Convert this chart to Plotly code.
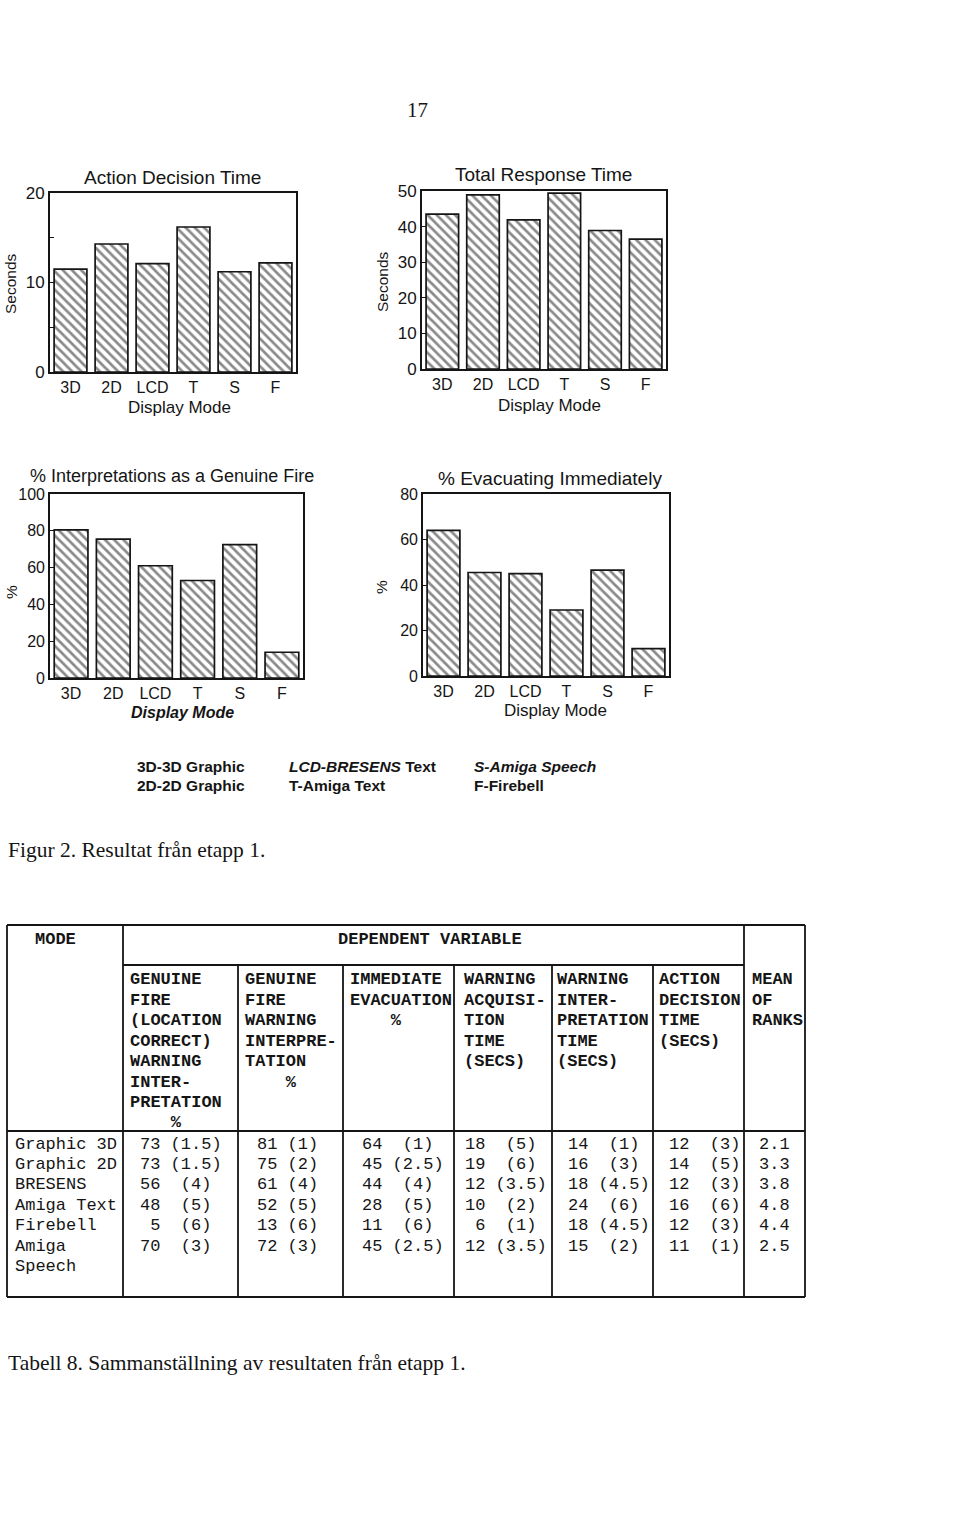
import plotly.graph_objects as go

# ---------------- data ----------------
modes = ["3D", "2D", "LCD", "T", "S", "F"]
action_decision_time = [11.5, 14.3, 12.1, 16.2, 11.2, 12.2]
total_response_time = [43.5, 48.9, 41.9, 49.4, 38.9, 36.5]
genuine_fire_pct = [80.5, 75.5, 61, 53, 72.5, 14]
evacuating_pct = [64, 45.5, 45, 29, 46.5, 12]

chart_titles = ["Action Decision Time", "Total Response Time",
                "% Interpretations as a Genuine Fire", "% Evacuating Immediately"]
y_titles = ["Seconds", "Seconds", "%", "%"]
x_title = "Display Mode"

adt_ticks = [0, 5, 10, 15, 20]
adt_ticktext = ["0", "", "10", "", "20"]
trt_ticks = [0, 10, 20, 30, 40, 50]
gf_ticks = [0, 20, 40, 60, 80, 100]
ev_ticks = [0, 20, 40, 60, 80]

legend_left = ["3D-3D Graphic", "2D-2D Graphic"]
legend_mid = ["<i>LCD-BRESENS</i> Text", "T-Amiga Text"]
legend_right = ["<i>S-Amiga Speech</i>", "F-Firebell"]

page_number = "17"
figure_caption = "Figur 2. Resultat från etapp 1."
table_caption = "Tabell 8. Sammanställning av resultaten från etapp 1."

table_mode_header = "MODE"
table_group_header = "DEPENDENT VARIABLE"
col_headers = [
    ["GENUINE", "FIRE", "(LOCATION", "CORRECT)", "WARNING", "INTER-", "PRETATION", "    %"],
    ["GENUINE", "FIRE", "WARNING", "INTERPRE-", "TATION", "    %"],
    ["IMMEDIATE", "EVACUATION", "    %"],
    ["WARNING", "ACQUISI-", "TION", "TIME", "(SECS)"],
    ["WARNING", "INTER-", "PRETATION", "TIME", "(SECS)"],
    ["ACTION", "DECISION", "TIME", "(SECS)"],
    ["MEAN", "OF", "RANKS"],
]
row_modes = ["Graphic 3D", "Graphic 2D", "BRESENS", "Amiga Text", "Firebell", "Amiga", "Speech"]
gf_loc_val = [73, 73, 56, 48, 5, 70]
gf_loc_rank = [1.5, 1.5, 4, 5, 6, 3]
gf_int_val = [81, 75, 61, 52, 13, 72]
gf_int_rank = [1, 2, 4, 5, 6, 3]
evac_val = [64, 45, 44, 28, 11, 45]
evac_rank = [1, 2.5, 4, 5, 6, 2.5]
acq_val = [18, 19, 12, 10, 6, 12]
acq_rank = [5, 6, 3.5, 2, 1, 3.5]
interp_val = [14, 16, 18, 24, 18, 15]
interp_rank = [1, 3, 4.5, 6, 4.5, 2]
dec_val = [12, 14, 12, 16, 12, 11]
dec_rank = [3, 5, 3, 6, 3, 1]
mean_ranks = [2.1, 3.3, 3.8, 4.8, 4.4, 2.5]

# ---------------- helpers ----------------
W, H = 960, 1534
def px(x):
    return x / W
def py(y):
    return 1 - y / H

INK = "#151515"
SANS = "Liberation Sans, Arial, sans-serif"
SERIF = "Liberation Serif, Times New Roman, serif"
MONO = "Liberation Mono, Courier New, monospace"

fig = go.Figure()

charts = [
    dict(vals=action_decision_time, dom_x=(50, 296), dom_y=(193, 372), rng=20,
         ticks=adt_ticks, ticktext=adt_ticktext, tfs=17,
         title_xy=(172, 177), tsize=19, ytitle_xy=(11, 284), xtitle_xy=(179, 407), italic=False),
    dict(vals=total_response_time, dom_x=(422, 666), dom_y=(191, 369), rng=50,
         ticks=trt_ticks, ticktext=[str(t) for t in trt_ticks], tfs=17,
         title_xy=(543, 175), tsize=19, ytitle_xy=(382, 282), xtitle_xy=(549, 405), italic=False),
    dict(vals=genuine_fire_pct, dom_x=(50, 303), dom_y=(494, 678), rng=100,
         ticks=gf_ticks, ticktext=[str(t) for t in gf_ticks], tfs=16,
         title_xy=(172, 476), tsize=18, ytitle_xy=(11, 592), xtitle_xy=(182, 712), italic=True),
    dict(vals=evacuating_pct, dom_x=(423, 669), dom_y=(494, 676), rng=80,
         ticks=ev_ticks, ticktext=[str(t) for t in ev_ticks], tfs=16,
         title_xy=(550, 479), tsize=19, ytitle_xy=(382, 587), xtitle_xy=(555, 710), italic=False),
]

annotations = []
shapes = []
layout_axes = {}

for i, c in enumerate(charts):
    n = "" if i == 0 else str(i + 1)
    fig.add_trace(go.Bar(
        x=modes, y=c["vals"], xaxis="x" + n, yaxis="y" + n, width=0.8,
        marker=dict(color="white", line=dict(color=INK, width=1.7),
                    pattern=dict(shape="\\", fgcolor=INK, bgcolor="white",
                                 size=6.5, solidity=0.42)),
        showlegend=False, hoverinfo="x+y"))
    layout_axes["xaxis" + n] = dict(
        domain=[px(c["dom_x"][0]), px(c["dom_x"][1])], anchor="y" + n,
        showline=True, mirror=True, linecolor=INK, linewidth=1.7,
        showgrid=False, zeroline=False, ticks="", automargin=False,
        tickfont=dict(family=SANS, size=16, color=INK),
        range=[-0.5, 5.5], fixedrange=True)
    layout_axes["yaxis" + n] = dict(
        domain=[py(c["dom_y"][1]), py(c["dom_y"][0])], anchor="x" + n,
        range=[0, c["rng"]], showline=True, mirror=True, linecolor=INK,
        linewidth=1.7, showgrid=False, zeroline=False, automargin=False,
        ticks="inside", ticklen=4, tickcolor=INK,
        tickvals=c["ticks"], ticktext=c["ticktext"],
        tickfont=dict(family=SANS, size=c["tfs"], color=INK), fixedrange=True)
    tx, ty = c["title_xy"]
    annotations.append(dict(x=px(tx), y=py(ty), xref="paper", yref="paper",
                            text=chart_titles[i], showarrow=False,
                            xanchor="center", yanchor="middle",
                            font=dict(family=SANS, size=c["tsize"], color=INK)))
    yx, yy = c["ytitle_xy"]
    annotations.append(dict(x=px(yx), y=py(yy), xref="paper", yref="paper",
                            text=y_titles[i], showarrow=False, textangle=-90,
                            xanchor="center", yanchor="middle",
                            font=dict(family=SANS, size=15.5, color=INK)))
    xx, xy = c["xtitle_xy"]
    xt = "<b><i>" + x_title + "</i></b>" if c["italic"] else x_title
    annotations.append(dict(x=px(xx), y=py(xy), xref="paper", yref="paper",
                            text=xt, showarrow=False,
                            xanchor="center", yanchor="middle",
                            font=dict(family=SANS, size=17 if not c["italic"] else 16, color=INK)))

# legend text block
for col_x, items in [(135, legend_left), (287, legend_mid), (472, legend_right)]:
    for j, t in enumerate(items):
        annotations.append(dict(x=px(col_x), y=py(766 + 19.5 * j), xref="paper", yref="paper",
                                text="<b>" + t + "</b>", showarrow=False,
                                xanchor="left", yanchor="middle",
                                font=dict(family=SANS, size=15.5, color=INK)))

# page number & captions
annotations.append(dict(x=px(417), y=py(110), xref="paper", yref="paper", text=page_number,
                        showarrow=False, xanchor="center", yanchor="middle",
                        font=dict(family=SERIF, size=21, color=INK)))
annotations.append(dict(x=px(6), y=py(850), xref="paper", yref="paper", text=figure_caption,
                        showarrow=False, xanchor="left", yanchor="middle",
                        font=dict(family=SERIF, size=21.5, color=INK)))
annotations.append(dict(x=px(6), y=py(1363), xref="paper", yref="paper", text=table_caption,
                        showarrow=False, xanchor="left", yanchor="middle",
                        font=dict(family=SERIF, size=21.5, color=INK)))

# ---------------- table ----------------
T_LEFT, T_RIGHT, T_TOP, T_BOT = 7, 805, 925, 1297
MODE_R, MEAN_L = 123, 744
GROUP_LINE_Y, DATA_TOP = 965, 1131
col_bounds = [123, 238, 343, 454, 552, 653, 744]

def line(x0, y0, x1, y1, w=1.8):
    shapes.append(dict(type="line", xref="paper", yref="paper",
                       x0=px(x0), y0=py(y0), x1=px(x1), y1=py(y1),
                       line=dict(color=INK, width=w)))

line(T_LEFT, T_TOP, T_RIGHT, T_TOP)
line(T_LEFT, T_BOT, T_RIGHT, T_BOT)
line(T_LEFT, T_TOP, T_LEFT, T_BOT)
line(T_RIGHT, T_TOP, T_RIGHT, T_BOT)
line(MODE_R, T_TOP, MODE_R, T_BOT)
line(MEAN_L, T_TOP, MEAN_L, T_BOT)
line(MODE_R, GROUP_LINE_Y, MEAN_L, GROUP_LINE_Y)
for xb in col_bounds[1:-1]:
    line(xb, GROUP_LINE_Y, xb, T_BOT)
line(T_LEFT, DATA_TOP, T_RIGHT, DATA_TOP)

NB = "\u00a0"
def mono(t):
    return t.replace(" ", NB)

def cell_text(v, r, centered=True):
    rs = "(%g)" % r
    if centered:
        return "%2d %s" % (v, rs.center(5))
    return "%2d %s" % (v, rs)

annotations.append(dict(x=px(33), y=py(939), xref="paper", yref="paper",
                        text="<b>" + table_mode_header + "</b>", showarrow=False,
                        xanchor="left", yanchor="middle",
                        font=dict(family=MONO, size=17, color=INK)))
annotations.append(dict(x=px(430), y=py(939), xref="paper", yref="paper",
                        text="<b>" + mono(table_group_header) + "</b>", showarrow=False,
                        xanchor="center", yanchor="middle",
                        font=dict(family=MONO, size=17, color=INK)))

header_x = [128, 243, 348, 462, 555, 657, 750]
for ci, lines in enumerate(col_headers):
    for li, t in enumerate(lines):
        annotations.append(dict(x=px(header_x[ci]), y=py(980 + 20.4 * li),
                                xref="paper", yref="paper",
                                text="<b>" + mono(t) + "</b>", showarrow=False,
                                xanchor="left", yanchor="middle",
                                font=dict(family=MONO, size=17, color=INK)))

row_y0, row_dy = 1144, 20.4
for ri, m in enumerate(row_modes):
    annotations.append(dict(x=px(13), y=py(row_y0 + row_dy * ri), xref="paper", yref="paper",
                            text=mono(m), showarrow=False, xanchor="left", yanchor="middle",
                            font=dict(family=MONO, size=17, color=INK)))

data_cols = [
    (138, gf_loc_val, gf_loc_rank, True),
    (255, gf_int_val, gf_int_rank, False),
    (360, evac_val, evac_rank, True),
    (463, acq_val, acq_rank, True),
    (566, interp_val, interp_rank, True),
    (667, dec_val, dec_rank, True),
]
for x0, vals, ranks, cen in data_cols:
    for ri, (v, r) in enumerate(zip(vals, ranks)):
        annotations.append(dict(x=px(x0), y=py(row_y0 + row_dy * ri), xref="paper", yref="paper",
                                text=mono(cell_text(v, r, cen)), showarrow=False,
                                xanchor="left", yanchor="middle",
                                font=dict(family=MONO, size=17, color=INK)))
for ri, mr in enumerate(mean_ranks):
    annotations.append(dict(x=px(757), y=py(row_y0 + row_dy * ri), xref="paper", yref="paper",
                            text="%.1f" % mr, showarrow=False, xanchor="left", yanchor="middle",
                            font=dict(family=MONO, size=17, color=INK)))

fig.update_layout(
    width=W, height=H, autosize=False,
    margin=dict(l=0, r=0, t=0, b=0, pad=0, autoexpand=False),
    paper_bgcolor="white", plot_bgcolor="white",
    bargap=0.2, showlegend=False,
    annotations=annotations, shapes=shapes,
    **layout_axes)

fig.write_html("out.html", config={"displayModeBar": False},
               post_script="document.body.style.margin='0px';document.body.style.padding='0px';")
